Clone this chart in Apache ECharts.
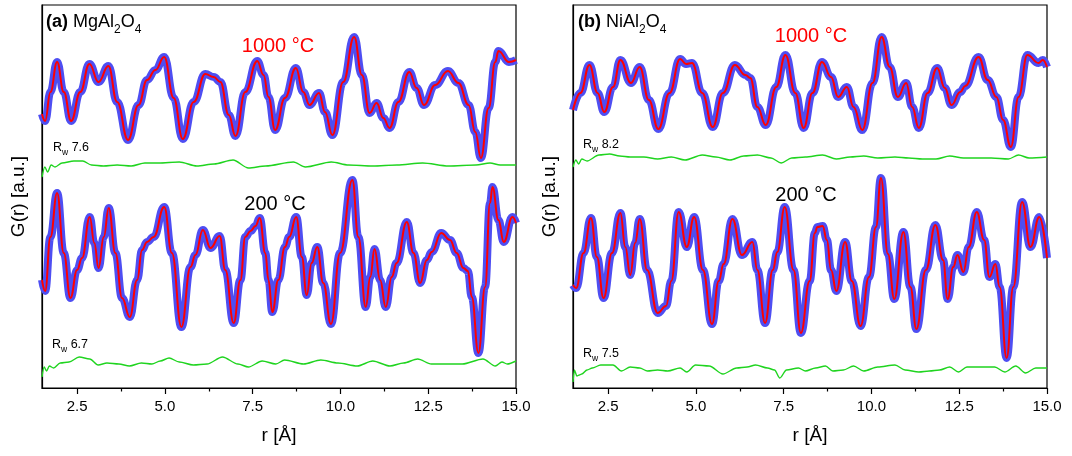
<!DOCTYPE html>
<html>
<head>
<meta charset="utf-8">
<script src="https://cdn.jsdelivr.net/npm/echarts@6/dist/echarts.min.js"></script>
<style>html,body{margin:0;padding:0;background:#fff}#c{width:1072px;height:456px}</style>
</head>
<body>
<div id="c"></div>
<script>
// r [Å] vs G(r) in arbitrary units (curves already offset as drawn)
const xTicks = [2.5, 5.0, 7.5, 10.0, 12.5, 15.0];
const xMinorTicks = [3.75, 6.25, 8.75, 11.25, 13.75];

// (a) MgAl2O4, 1000 °C: observed (blue circles) ~ fit (red)
const obsA1000 = [[1.50,274],[1.59,267],[1.74,296],[1.93,326],[2.12,296],[2.33,267],[2.59,296],[2.85,324],[3.11,306],[3.39,322],[3.64,286],[3.95,248],[4.25,283],[4.49,308],[4.73,318],[4.98,331],[5.25,290],[5.51,249],[5.82,286],[6.15,314],[6.39,311],[6.58,306],[6.82,273],[7.01,252],[7.29,296],[7.63,327],[7.81,313],[7.95,291],[8.14,258],[8.42,290],[8.73,320],[8.94,296],[9.12,283],[9.39,295],[9.56,276],[9.77,253],[10.08,306],[10.39,351],[10.61,313],[10.83,275],[11.03,285],[11.22,270],[11.40,260],[11.65,286],[11.96,316],[12.17,300],[12.38,283],[12.70,303],[13.06,317],[13.36,305],[13.65,283],[13.84,256],[14.00,230],[14.22,280],[14.41,326],[14.50,337],[14.80,326],[15.00,328]];
const fitA1000 = obsA1000;
const diffA1000 = [[1.50,211],[1.58,221],[1.66,216],[1.76,223],[1.87,221],[2.07,225],[2.41,227],[2.66,227],[2.91,223],[3.25,222],[3.64,223],[4.04,222],[4.43,225],[4.82,225],[5.41,226],[5.91,222],[6.40,224],[6.94,228],[7.38,220],[7.87,222],[8.66,226],[9.00,221],[9.74,226],[10.23,223],[10.92,222],[11.61,223],[12.34,225],[13.08,222],[13.86,223],[14.26,225],[14.55,223],[15.00,223]];

// (a) MgAl2O4, 200 °C
const obsA200 = [[1.50,108],[1.59,97],[1.74,151],[1.93,195],[2.12,135],[2.31,90],[2.50,118],[2.64,130],[2.86,171],[2.99,145],[3.11,120],[3.26,151],[3.40,180],[3.59,135],[3.78,90],[4.00,71],[4.21,108],[4.35,138],[4.49,146],[4.68,151],[4.98,181],[5.20,135],[5.47,61],[5.73,121],[5.87,133],[6.08,158],[6.30,140],[6.56,152],[6.72,118],[6.96,65],[7.15,108],[7.29,151],[7.44,157],[7.58,162],[7.70,170],[7.86,135],[7.95,108],[8.06,76],[8.23,108],[8.42,141],[8.54,151],[8.74,171],[8.90,131],[9.04,93],[9.18,125],[9.34,141],[9.51,105],[9.73,64],[9.99,135],[10.34,208],[10.51,151],[10.72,81],[10.85,111],[10.97,139],[11.13,108],[11.29,81],[11.46,111],[11.60,125],[11.89,166],[12.08,135],[12.27,105],[12.46,128],[12.60,136],[12.87,155],[13.12,148],[13.31,135],[13.50,120],[13.63,117],[13.74,91],[13.93,35],[14.12,101],[14.26,185],[14.33,201],[14.50,168],[14.65,146],[14.90,171],[15.00,165]];
const fitA200 = obsA200;
const diffA200 = [[1.50,11],[1.56,21],[1.63,17],[1.71,22],[1.83,20],[2.02,25],[2.27,26],[2.56,31],[2.86,29],[3.10,23],[3.35,25],[3.69,24],[3.99,22],[4.33,25],[4.63,24],[4.87,27],[5.12,30],[5.41,26],[5.81,23],[6.20,24],[6.64,31],[7.08,24],[7.38,21],[7.77,27],[8.16,24],[8.41,28],[8.95,24],[9.44,28],[9.93,25],[10.48,22],[10.92,27],[11.41,22],[11.80,25],[12.20,29],[12.59,24],[13.08,24],[13.47,24],[14.06,29],[14.41,22],[14.60,26],[14.75,24],[15.00,27]];

// (b) NiAl2O4, 1000 °C
const obsB1000 = [[1.50,278],[1.71,295],[1.97,323],[2.20,295],[2.39,276],[2.64,301],[2.85,328],[3.15,305],[3.40,321],[3.66,288],[3.93,259],[4.25,295],[4.55,329],[4.72,324],[4.89,325],[5.18,295],[5.48,261],[5.77,295],[6.11,323],[6.41,313],[6.55,310],[6.75,281],[6.99,263],[7.29,301],[7.55,333],[7.83,295],[8.07,260],[8.32,295],[8.59,326],[8.85,311],[9.05,291],[9.30,301],[9.49,281],[9.74,258],[10.03,305],[10.29,351],[10.52,321],[10.75,291],[10.99,305],[11.16,281],[11.35,260],[11.60,295],[11.87,320],[12.09,300],[12.28,283],[12.53,296],[12.67,302],[13.05,331],[13.31,308],[13.56,291],[13.75,268],[13.97,241],[14.19,291],[14.44,333],[14.76,325],[14.88,328],[15.00,321]];
const fitB1000 = obsB1000;
const diffB1000 = [[1.50,221],[1.58,228],[1.66,224],[1.75,229],[1.90,227],[2.24,233],[2.54,234],[2.83,232],[3.13,231],[3.52,231],[3.91,229],[4.30,231],[4.69,228],[5.18,233],[5.57,231],[5.97,228],[6.36,232],[6.75,233],[7.14,230],[7.43,225],[7.73,230],[8.12,231],[8.61,233],[9.00,229],[9.39,231],[9.78,232],[10.18,230],[10.67,231],[11.06,230],[11.45,229],[11.84,229],[12.23,232],[12.62,230],[13.02,230],[13.41,230],[13.90,229],[14.19,233],[14.49,230],[15.00,231]];

// (b) NiAl2O4, 200 °C
const obsB200 = [[1.50,103],[1.59,100],[1.80,135],[2.01,170],[2.18,131],[2.37,90],[2.61,135],[2.85,175],[2.99,141],[3.13,113],[3.27,145],[3.40,169],[3.61,118],[3.91,75],[4.15,82],[4.30,107],[4.51,176],[4.74,141],[4.95,171],[5.20,118],[5.46,64],[5.65,107],[5.79,124],[6.04,169],[6.31,133],[6.61,146],[6.75,118],[6.97,65],[7.19,118],[7.32,136],[7.53,181],[7.78,118],[7.99,55],[8.24,107],[8.39,155],[8.46,161],[8.61,162],[8.73,148],[8.85,118],[9.00,97],[9.25,146],[9.44,107],[9.69,62],[9.93,111],[10.13,161],[10.27,210],[10.47,134],[10.65,89],[10.91,156],[11.11,101],[11.28,59],[11.55,118],[11.82,163],[12.04,128],[12.17,89],[12.33,121],[12.45,133],[12.62,116],[12.77,141],[13.00,176],[13.21,148],[13.36,111],[13.53,124],[13.65,101],[13.85,30],[14.04,101],[14.29,186],[14.53,141],[14.78,171],[15.00,130]];
const fitB200 = obsB200;
const diffB200 = [[1.50,6],[1.54,18],[1.61,12],[1.68,13],[1.75,14],[1.90,18],[2.05,20],[2.29,23],[2.64,23],[2.88,17],[3.13,21],[3.40,20],[3.62,17],[3.91,18],[4.20,17],[4.55,20],[4.74,16],[4.99,23],[5.38,22],[5.77,14],[6.16,20],[6.46,21],[6.70,23],[7.04,20],[7.24,18],[7.39,10],[7.58,18],[7.92,20],[8.12,17],[8.41,20],[8.69,22],[8.90,17],[9.20,18],[9.49,22],[9.78,17],[10.18,21],[10.67,23],[10.96,18],[11.35,16],[11.65,17],[11.94,18],[12.23,21],[12.48,16],[12.72,21],[13.51,21],[13.80,16],[14.11,22],[14.39,15],[14.68,20],[15.00,20]];

const FONT = '"Liberation Sans", Arial, Helvetica, sans-serif';
const chart = echarts.init(document.getElementById('c'), null, {renderer: 'canvas'});

const grids = [
  {left: 42, top: 5, width: 474, height: 383},
  {left: 573, top: 5, width: 474, height: 383}
];

function xAxes(gi) {
  return [
    {
      type: 'value', gridIndex: gi, min: 1.5, max: 15,
      name: 'r [Å]', nameLocation: 'middle', nameGap: 38,
      nameTextStyle: {fontSize: 19, color: '#000', fontFamily: FONT},
      axisLine: {show: true, lineStyle: {color: '#000', width: 1.2}},
      axisTick: {show: true, inside: false, length: 6, customValues: xTicks, lineStyle: {color: '#000', width: 1.2}},
      axisLabel: {show: true, customValues: xTicks, margin: 11, fontSize: 15, color: '#000', fontFamily: FONT,
        formatter: v => Number(v).toFixed(1)},
      splitLine: {show: false}
    },
    {
      type: 'value', gridIndex: gi, min: 1.5, max: 15, position: 'bottom',
      axisLine: {show: false},
      axisTick: {show: true, inside: false, length: 3.5, customValues: xMinorTicks, lineStyle: {color: '#000', width: 1.2}},
      axisLabel: {show: false},
      splitLine: {show: false}
    }
  ];
}
function yAxis(gi) {
  return {
    type: 'value', gridIndex: gi, min: 0, max: 383,
    name: 'G(r) [a.u.]', nameLocation: 'middle', nameGap: 14, nameRotate: 90,
    nameTextStyle: {fontSize: 19, color: '#000', fontFamily: FONT},
    axisLine: {show: true, lineStyle: {color: '#000', width: 1.2}},
    axisTick: {show: false}, axisLabel: {show: false}, splitLine: {show: false}
  };
}
function curveSeries(xi, yi, obs, fit, diff) {
  const common = {type: 'line', xAxisIndex: xi, yAxisIndex: yi, showSymbol: false, symbol: 'none', smooth: 0.45, smoothMonotone: 'x', animation: false, silent: true};
  return [
    Object.assign({}, common, {data: obs, z: 2, lineStyle: {color: '#4e4ef2', width: 8}}),
    Object.assign({}, common, {data: fit, z: 4, lineStyle: {color: '#ff0000', width: 2}}),
    Object.assign({}, common, {data: diff, z: 4, smooth: 0.3, lineStyle: {color: '#1fd41f', width: 1.4}})
  ];
}

const sub = {
  n: {fontSize: 18, fontFamily: FONT, color: '#000', lineHeight: 22},
  b: {fontSize: 18, fontFamily: FONT, color: '#000', fontWeight: 'bold', lineHeight: 22},
  s: {fontSize: 12, fontFamily: FONT, color: '#000', lineHeight: 12, verticalAlign: 'bottom', padding: [0, 0, -3, 0]}
};
const rw = {
  n: {fontSize: 12.5, fontFamily: FONT, color: '#000', lineHeight: 15},
  s: {fontSize: 8.5, fontFamily: FONT, color: '#000', lineHeight: 8, verticalAlign: 'bottom', padding: [0, 0, -2, 0]}
};
function txt(x, y, text, rich, align) {
  return {type: 'text', x: x, y: y, silent: true,
    style: {text: text, rich: rich, align: align || 'left', verticalAlign: 'middle', fontFamily: FONT}};
}
function plain(x, y, text, color) {
  return {type: 'text', x: x, y: y, silent: true,
    style: {text: text, fill: color, fontSize: 20, fontFamily: FONT, align: 'center', verticalAlign: 'middle'}};
}

chart.setOption({
  backgroundColor: '#fff',
  animation: false,
  grid: grids.map(g => Object.assign({show: true, borderColor: '#000', borderWidth: 1.2, backgroundColor: 'transparent'}, g)),
  xAxis: [].concat(xAxes(0), xAxes(1)),
  yAxis: [yAxis(0), yAxis(1)],
  series: [].concat(
    curveSeries(0, 0, obsA1000, fitA1000, diffA1000),
    curveSeries(0, 0, obsA200, fitA200, diffA200),
    curveSeries(2, 1, obsB1000, fitB1000, diffB1000),
    curveSeries(2, 1, obsB200, fitB200, diffB200)
  ),
  graphic: [
    txt(46, 22, '{b|(a)}{n| MgAl}{s|2}{n|O}{s|4}', sub),
    txt(578, 22, '{b|(b)}{n| NiAl}{s|2}{n|O}{s|4}', sub),
    plain(278, 46, '1000 °C', '#ff0000'),
    plain(275, 204, '200 °C', '#000'),
    plain(811, 36, '1000 °C', '#ff0000'),
    plain(806, 195, '200 °C', '#000'),
    txt(53, 148, '{n|R}{s|w}{n| 7.6}', rw),
    txt(52, 345, '{n|R}{s|w}{n| 6.7}', rw),
    txt(583, 145, '{n|R}{s|w}{n| 8.2}', rw),
    txt(583, 354, '{n|R}{s|w}{n| 7.5}', rw)
  ]
});
</script>
</body>
</html>
